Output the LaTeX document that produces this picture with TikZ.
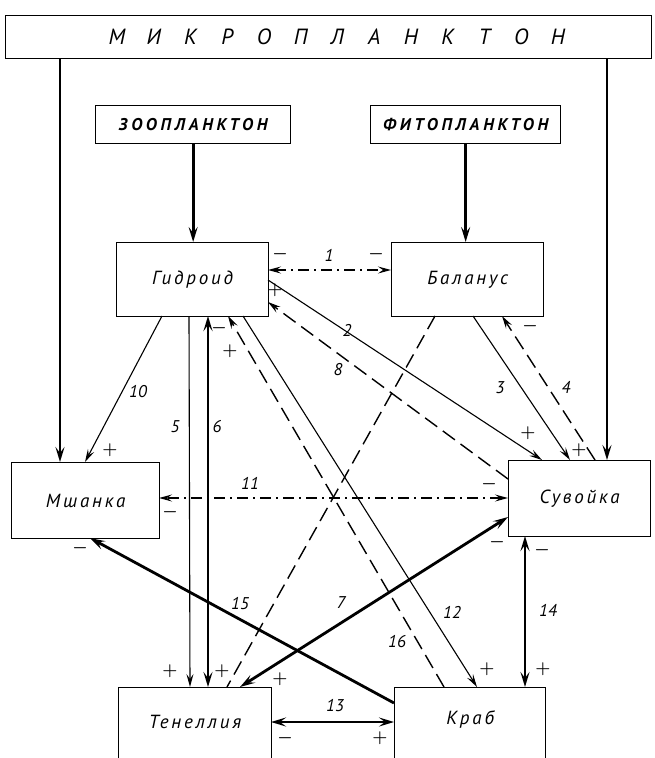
\documentclass[tikz,border=0pt]{standalone}
\usepackage{fontspec}
\setmainfont{PT Sans}
\newfontfamily\labfont{PT Sans}[LetterSpace=15]
\newfontfamily\capfont{PT Sans}[LetterSpace=22]
\usetikzlibrary{arrows.meta,calc}
\begin{document}
\begin{tikzpicture}[x=1pt,y=-1pt,
  box/.style={draw, line width=1.3pt, inner sep=0pt},
  boxtext/.style={font=\labfont\itshape\fontsize{19}{19}\selectfont},
  captext/.style={font=\capfont\bfseries\itshape\fontsize{17}{17}\selectfont},
  titletext/.style={font=\itshape\fontsize{22}{22}\selectfont},
  num/.style={font=\itshape\fontsize{17}{17}\selectfont, inner sep=0pt},
  sgn/.style={font=\fontsize{19}{19}\selectfont\boldmath, inner sep=0pt},
  thinln/.style={line width=1.1pt},
  thkln/.style={line width=2.8pt},
  dashln/.style={line width=1.4pt, dash pattern=on 15pt off 7pt},
  ddln/.style={line width=1.1pt, dash pattern=on 11pt off 5pt on 2pt off 5pt},
  arE/.style={-{Stealth[length=13pt,width=7pt,inset=5pt]}},
  arB/.style={{Stealth[length=13pt,width=7pt,inset=5pt]}-{Stealth[length=13pt,width=7pt,inset=5pt]}},
  arTE/.style={-{Stealth[length=15pt,width=9pt,inset=6pt]}},
  arTB/.style={{Stealth[length=15pt,width=9pt,inset=6pt]}-{Stealth[length=15pt,width=9pt,inset=6pt]}}
]
\useasboundingbox (0,0) rectangle (654,758);

% boxes
\node[box, anchor=north west, minimum width=646pt, minimum height=43pt] (mikro) at (5,15) {};
\foreach \c [count=\i from 0] in {М,И,К,Р,О,П,Л,А,Н,К,Т,О,Н}
  \node[titletext] (t\i) at (117+\i*36.75, 37) {\c};
\node[box, anchor=north west, minimum width=195pt, minimum height=38pt, captext] (zoo) at (95,105) {ЗООПЛАНКТОН};
\node[box, anchor=north west, minimum width=190pt, minimum height=38pt, captext] (phyto) at (370,105) {ФИТОПЛАНКТОН};
\node[box, anchor=north west, minimum width=152pt, minimum height=74pt, boxtext] (gid) at (116,242) {Гидроид};
\node[box, anchor=north west, minimum width=152pt, minimum height=74pt, boxtext] (bal) at (391,242) {Баланус};
\node[box, anchor=north west, minimum width=148pt, minimum height=76pt, boxtext] (msh) at (11,462) {Мшанка};
\node[box, anchor=north west, minimum width=142pt, minimum height=76pt, boxtext] (suv) at (508,460) {Сувойка};
\node[box, anchor=north west, minimum width=153pt, minimum height=100pt] (ten) at (118,687) {};
\node[box, anchor=north west, minimum width=151pt, minimum height=100pt] (kr) at (394,687) {};
\node[boxtext] (tenT) at ($(ten.north)+(0,35)$) {Тенеллия};
\node[boxtext] (krT) at ($(kr.north)+(0,33)$) {Краб};

% input arrows
\draw[thkln, arTE] ($(mikro.south west)+(55,0)$) -- ($(msh.north west)+(49,0)$);
\draw[thkln, arTE] ($(mikro.south west)+(602,0)$) -- ($(suv.north west)+(99,0)$);
\draw[thkln, arTE] (zoo.south) -- (zoo.south |- gid.north);
\draw[thkln, arTE] (phyto.south) -- (phyto.south |- bal.north);

% relations
\draw[ddln, arB] ($(gid.north west)+(152,28)$) -- ($(bal.north west)+(0,28)$);
\draw[thinln, arE] ($(gid.north west)+(152,38)$) -- ($(suv.north west)+(34,0)$);
\draw[thinln, arE] ($(bal.north west)+(82,74)$) -- ($(suv.north west)+(62,0)$);
\draw[dashln, arE] ($(suv.north west)+(87,0)$) -- ($(bal.north west)+(111,74)$);
\draw[thinln, arE] ($(gid.north west)+(73,74)$) -- ($(ten.north west)+(72,0)$);
\draw[thkln, arTB] ($(ten.north west)+(90,0)$) -- ($(gid.north west)+(92,74)$);
\draw[thkln, arTB] ($(ten.north west)+(122,0)$) -- ($(suv.north west)+(0,57)$);
\draw[dashln, arE] ($(suv.north west)+(0,19)$) -- ($(gid.north west)+(152,60)$);
\draw[dashln] ($(bal.north west)+(44,74)$) -- ($(ten.north west)+(109,0)$);
\draw[thinln, arE] ($(gid.north west)+(46,74)$) -- ($(msh.north west)+(74,0)$);
\draw[ddln, arB] ($(suv.north west)+(0,38)$) -- ($(msh.north west)+(148,36)$);
\draw[thinln, arE] ($(gid.north west)+(127,74)$) -- ($(kr.north west)+(83,0)$);
\draw[thkln, arTB] ($(ten.north west)+(153,35)$) -- ($(kr.north west)+(0,35)$);
\draw[thkln, arTB] ($(suv.north west)+(17,76)$) -- ($(kr.north west)+(131,0)$);
\draw[thkln, arTE] ($(kr.north west)+(0,16)$) -- ($(msh.north west)+(79,76)$);
\draw[dashln, arE] ($(kr.north west)+(50,0)$) -- ($(gid.north west)+(112,74)$);

% number labels
\node[num] (l1) at (329,255) {1};
\node[num] (l2) at (347,330) {2};
\node[num] (l3) at (500,388) {3};
\node[num] (l4) at (566,387) {4};
\node[num] (l5) at (175,427) {5};
\node[num] (l6) at (217,427) {6};
\node[num] (l7) at (341,603) {7};
\node[num] (l8) at (338,370) {8};
\node[num] (l10) at (138,392) {10};
\node[num] (l11) at (250,483) {11};
\node[num] (l12) at (452,612) {12};
\node[num] (l13) at (335,706) {13};
\node[num] (l14) at (548,610) {14};
\node[num] (l15) at (240,604) {15};
\node[num] (l16) at (397,642) {16};

% signs
\node[sgn] (s1) at (280,254) {$-$};
\node[sgn] (s2) at (376,254) {$-$};
\node[sgn] (s3) at (275,290) {$+$};
\node[sgn] (s4) at (219,328) {$-$};
\node[sgn] (s5) at (230,351) {$+$};
\node[sgn] (s6) at (530,326) {$-$};
\node[sgn] (s7) at (110,450) {$+$};
\node[sgn] (s8) at (528,433) {$+$};
\node[sgn] (s9) at (579,450) {$+$};
\node[sgn] (s10) at (489,484) {$-$};
\node[sgn] (s11) at (170,512) {$-$};
\node[sgn] (s12) at (80,548) {$-$};
\node[sgn] (s13) at (497,542) {$-$};
\node[sgn] (s14) at (542,550) {$-$};
\node[sgn] (s15) at (170,671) {$+$};
\node[sgn] (s16) at (222,671) {$+$};
\node[sgn] (s17) at (280,679) {$+$};
\node[sgn] (s18) at (487,669) {$+$};
\node[sgn] (s19) at (543,669) {$+$};
\node[sgn] (s20) at (285,738) {$-$};
\node[sgn] (s21) at (380,738) {$+$};
\end{tikzpicture}
\end{document}
